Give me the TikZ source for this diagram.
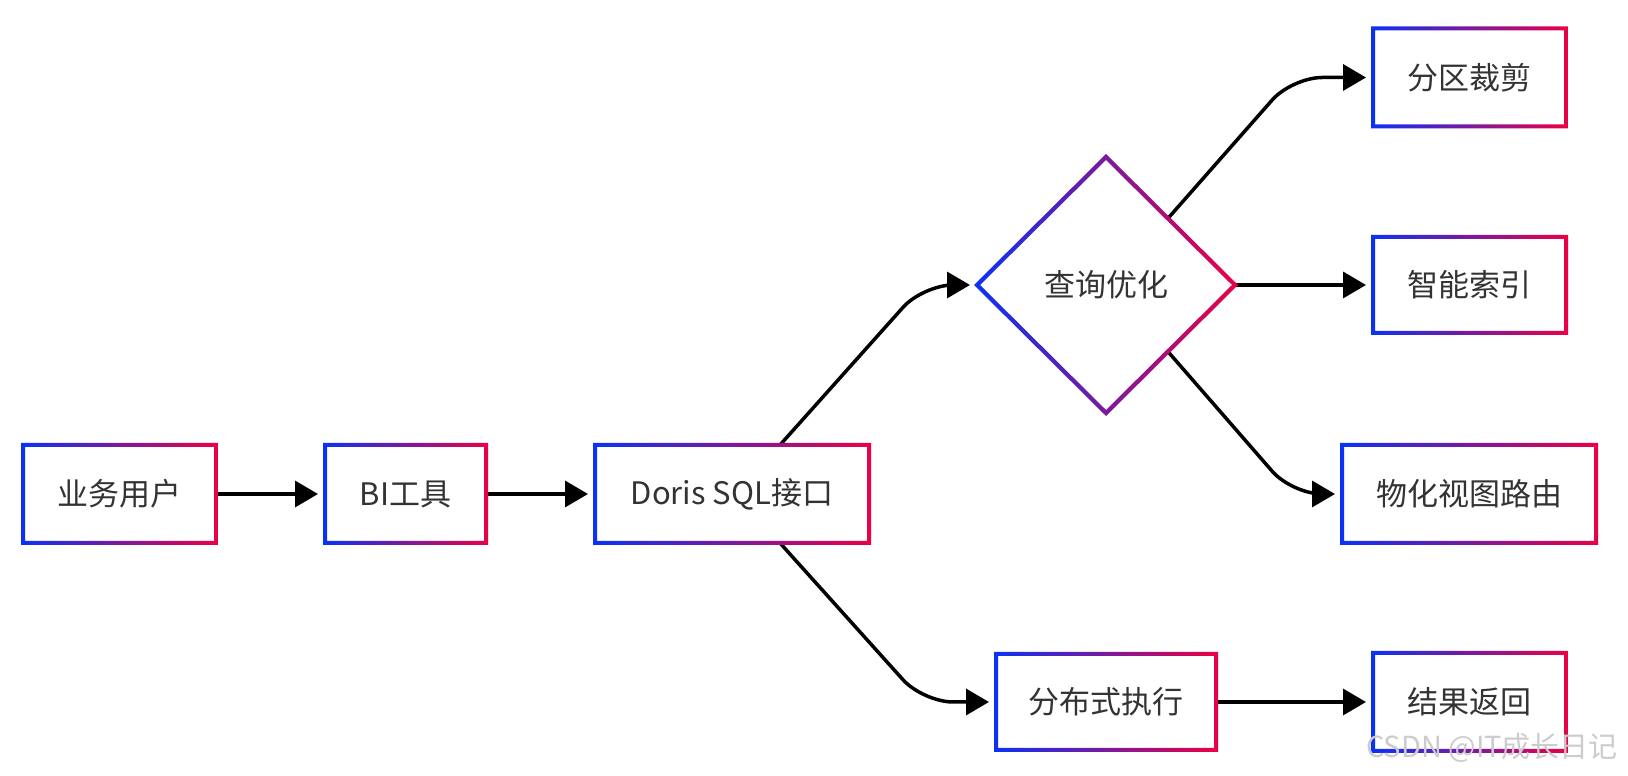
\documentclass[tikz,border=0pt]{standalone}
\usepackage{fontspec}
\setmainfont{Noto Sans CJK SC}
\usetikzlibrary{arrows.meta,shapes.geometric,calc}
\definecolor{gblue}{RGB}{10,50,245}
\definecolor{gred}{RGB}{235,0,70}
\definecolor{txt}{RGB}{51,51,51}
\tikzset{
  box/.style={rectangle, minimum width=193pt, minimum height=98pt, inner sep=0pt, outer sep=0pt,
    font=\fontsize{31}{36}\selectfont, text=txt},
  rhomb/.style={diamond, minimum width=258pt, minimum height=256pt, inner sep=0pt, outer sep=0pt,
    font=\fontsize{31}{36}\selectfont, text=txt},
  arr/.style={draw=black, line width=3.5pt, -{Triangle[length=23pt,width=26pt]}, shorten >=7pt},
}
% gradient frame round a box or a diamond
\newcommand{\gradrect}[1]{\shade[left color=gblue, right color=gred, even odd rule]
  ([shift={(-2pt,-2pt)}]#1.south west) rectangle ([shift={(2pt,2pt)}]#1.north east)
  ([shift={(2pt,2pt)}]#1.south west) rectangle ([shift={(-2pt,-2pt)}]#1.north east);}
\newcommand{\graddiam}[1]{\shade[left color=gblue, right color=gred, even odd rule]
  ([xshift=-3pt]#1.west) -- ([yshift=3pt]#1.north) -- ([xshift=3pt]#1.east) -- ([yshift=-3pt]#1.south) -- cycle
  ([xshift=3pt]#1.west) -- ([yshift=-3pt]#1.north) -- ([xshift=-3pt]#1.east) -- ([yshift=3pt]#1.south) -- cycle;}
\begin{document}
\begin{tikzpicture}[x=1pt,y=1pt]
  \useasboundingbox[fill=white] (0,0) rectangle (1628,776);
  % left chain
  \node[box] (user) at (119.5,282) {业务用户};
  \node[box, minimum width=161pt] (bi) at (405.5,282) {BI工具};
  \node[box, minimum width=274pt] (doris) at (732,282) {Doris SQL接口};
  % optimiser and its branches
  \node[rhomb] (opt) at (1106,491) {查询优化};
  \node[box] (prune) at (1469.5,698.5) {分区裁剪};
  \node[box, minimum height=96pt] (index) at (1469.5,491) {智能索引};
  \node[box, minimum width=254pt] (mview) at (1469,282) {物化视图路由};
  % execution
  \node[box, minimum width=220pt, minimum height=96pt] (exec) at (1106,74) {分布式执行};
  \node[box] (result) at (1469.5,74) {结果返回};
  \coordinate (b1) at (923,491);
  \coordinate (b2) at (923,74);
  \coordinate (b3) at (1292,698.5);
  \coordinate (b4) at (1292,282);
  \draw[arr] (user) -- (bi);
  \draw[arr] (bi) -- (doris);
  \draw[arr, rounded corners=30pt] ([xshift=48pt]doris.north) -- (b1) -- (opt.west);
  \draw[arr, rounded corners=30pt] ([xshift=48pt]doris.south) -- (b2) -- (exec.west);
  \draw[arr, rounded corners=30pt] ($(opt.north)!0.48!(opt.east)$) -- (b3) -- (prune.west);
  \draw[arr] (opt.east) -- (index.west);
  \draw[arr, rounded corners=30pt] ($(opt.south)!0.48!(opt.east)$) -- (b4) -- (mview.west);
  \draw[arr] (exec) -- (result);
  \foreach \n in {user,bi,doris,prune,index,mview,exec,result} \gradrect{\n};
  \graddiam{opt}
  \node[font=\fontsize{29}{32}\selectfont, text=gray!40] (mark) at (1492,28) {CSDN @IT成长日记};
\end{tikzpicture}
\end{document}
